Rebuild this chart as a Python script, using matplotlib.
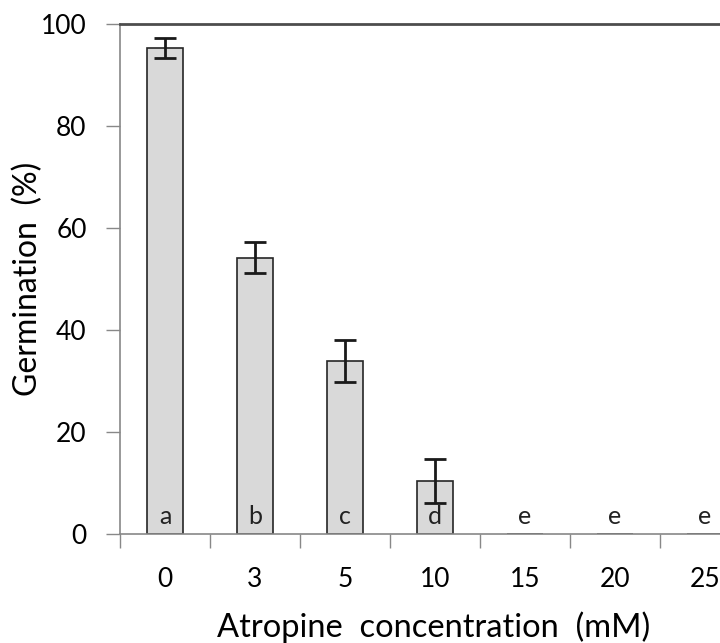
import numpy as np
import matplotlib.pyplot as plt

# Data
concentrations = ['0', '3', '5', '10', '15', '20', '25']
germination = [95.3, 54.2, 33.9, 10.4, 0, 0, 0]
errors = [2.0, 3.0, 4.1, 4.4, 0, 0, 0]
letters = ['a', 'b', 'c', 'd', 'e', 'e', 'e']

plt.rcParams['font.family'] = ['Lato', 'DejaVu Sans']

fig = plt.figure(figsize=(7.2, 6.43), dpi=100)
ax = fig.add_axes([120 / 720, 109 / 643, 630 / 720, 510 / 643])

x = np.arange(len(concentrations))
bar_err = [e if e > 0 else np.nan for e in errors]
ax.bar(x, germination, width=0.4, color='#d9d9d9', edgecolor='#262626', linewidth=1.2,
       yerr=bar_err, capsize=8, error_kw=dict(ecolor='#1a1a1a', elinewidth=2, capthick=2),
       zorder=2)

for xi, lab in zip(x, letters):
    ax.text(xi, 3.4, lab, ha='center', va='center', fontsize=18, color='#222222', zorder=3)

ax.set_xlim(-0.5, len(concentrations) - 0.5)
ax.set_ylim(0, 100)
ax.set_yticks(range(0, 101, 20))

# category boundaries as tick marks, labels at category centres
ax.set_xticks(np.arange(-0.5, len(concentrations), 1.0))
ax.set_xticklabels([])
ax.set_xticks(x, minor=True)
ax.set_xticklabels(concentrations, minor=True)
ax.tick_params(axis='x', which='major', length=10, width=1, color='#888888', direction='out')
ax.tick_params(axis='x', which='minor', length=0, pad=24, labelsize=19)
ax.tick_params(axis='y', length=10, width=1, color='#888888', direction='out', pad=14, labelsize=19)

for s in ['left', 'bottom']:
    ax.spines[s].set_color('#888888')
    ax.spines[s].set_linewidth(1.2)
ax.spines['right'].set_visible(False)
ax.spines['top'].set_color('#4d4d4d')
ax.spines['top'].set_linewidth(2)

ax.set_ylabel('Germination  (%)', fontsize=23)
ax.set_xlabel('Atropine  concentration  (mM)', fontsize=23.5)
ax.yaxis.set_label_coords(-77 / 630, 0.5)
ax.xaxis.set_label_coords(0.498, -77 / 510)

fig.savefig('out.png', dpi=100)
